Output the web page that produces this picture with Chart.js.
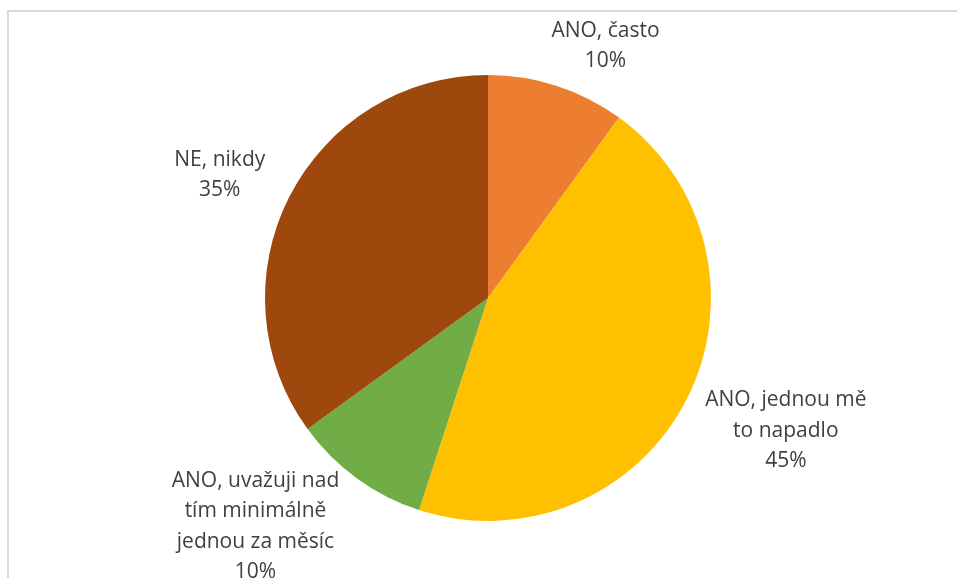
<!DOCTYPE html>
<html>
<head>
<meta charset="utf-8">
<script src="https://cdn.jsdelivr.net/npm/chart.js@4.4.1/dist/chart.umd.min.js"></script>
<style>
  html, body { margin: 0; padding: 0; background: #fff; }
  #wrap { width: 957px; height: 578px; position: relative; }
</style>
</head>
<body>
<div id="wrap"><canvas id="pieChart" width="957" height="578"></canvas></div>
<script>
const categories = [
  ["ANO, často"],
  ["ANO, jednou mě", "to napadlo"],
  ["ANO, uvažuji nad", "tím minimálně", "jednou za měsíc"],
  ["NE, nikdy"]
]
const shares = [10, 45, 10, 35]
const colors = ["#ED7D31", "#FFC000", "#70AD47", "#9E480E"]

// where each label block sits: angle from top (deg, clockwise) and distance from centre
const labelSpots = [
  { angle: 25, dist: 278 },
  { angle: 114, dist: 326 },
  { angle: 225.5, dist: 326 },
  { angle: 294.6, dist: 295 }
]

const frame = {
  id: "frame",
  beforeDraw(chart) {
    const ctx = chart.ctx
    ctx.save()
    ctx.strokeStyle = "#d9d9d9"
    ctx.lineWidth = 2
    ctx.beginPath()
    ctx.moveTo(8, 578)
    ctx.lineTo(8, 11)
    ctx.lineTo(957, 11)
    ctx.stroke()
    ctx.restore()
  }
}

const outsideLabels = {
  id: "outsideLabels",
  afterDraw(chart) {
    const ctx = chart.ctx
    const meta = chart.getDatasetMeta(0)
    ctx.save()
    ctx.fillStyle = "#404040"
    ctx.font = "21px 'Open Sans'"
    ctx.textAlign = "center"
    ctx.textBaseline = "middle"
    const lh = 30.3
    meta.data.forEach((arc, i) => {
      const spot = labelSpots[i]
      const a = spot.angle * Math.PI / 180
      const cx = arc.x + spot.dist * Math.sin(a)
      const cy = arc.y - spot.dist * Math.cos(a)
      const lines = categories[i].concat([shares[i] + "%"])
      const top = cy - (lines.length - 1) * lh / 2
      lines.forEach((t, j) => ctx.fillText(t, cx, top + j * lh))
    })
    ctx.restore()
  }
}

const ctx = document.getElementById("pieChart").getContext("2d")
new Chart(ctx, {
  type: "pie",
  data: {
    labels: categories.map((c) => c.join(" ")),
    datasets: [{
      data: shares,
      backgroundColor: colors,
      borderWidth: 0
    }]
  },
  options: {
    responsive: false,
    animation: false,
    layout: { padding: { top: 75, bottom: 57, left: 265, right: 246 } },
    plugins: {
      legend: { display: false },
      tooltip: { enabled: false }
    }
  },
  plugins: [frame, outsideLabels]
})
</script>
</body>
</html>
